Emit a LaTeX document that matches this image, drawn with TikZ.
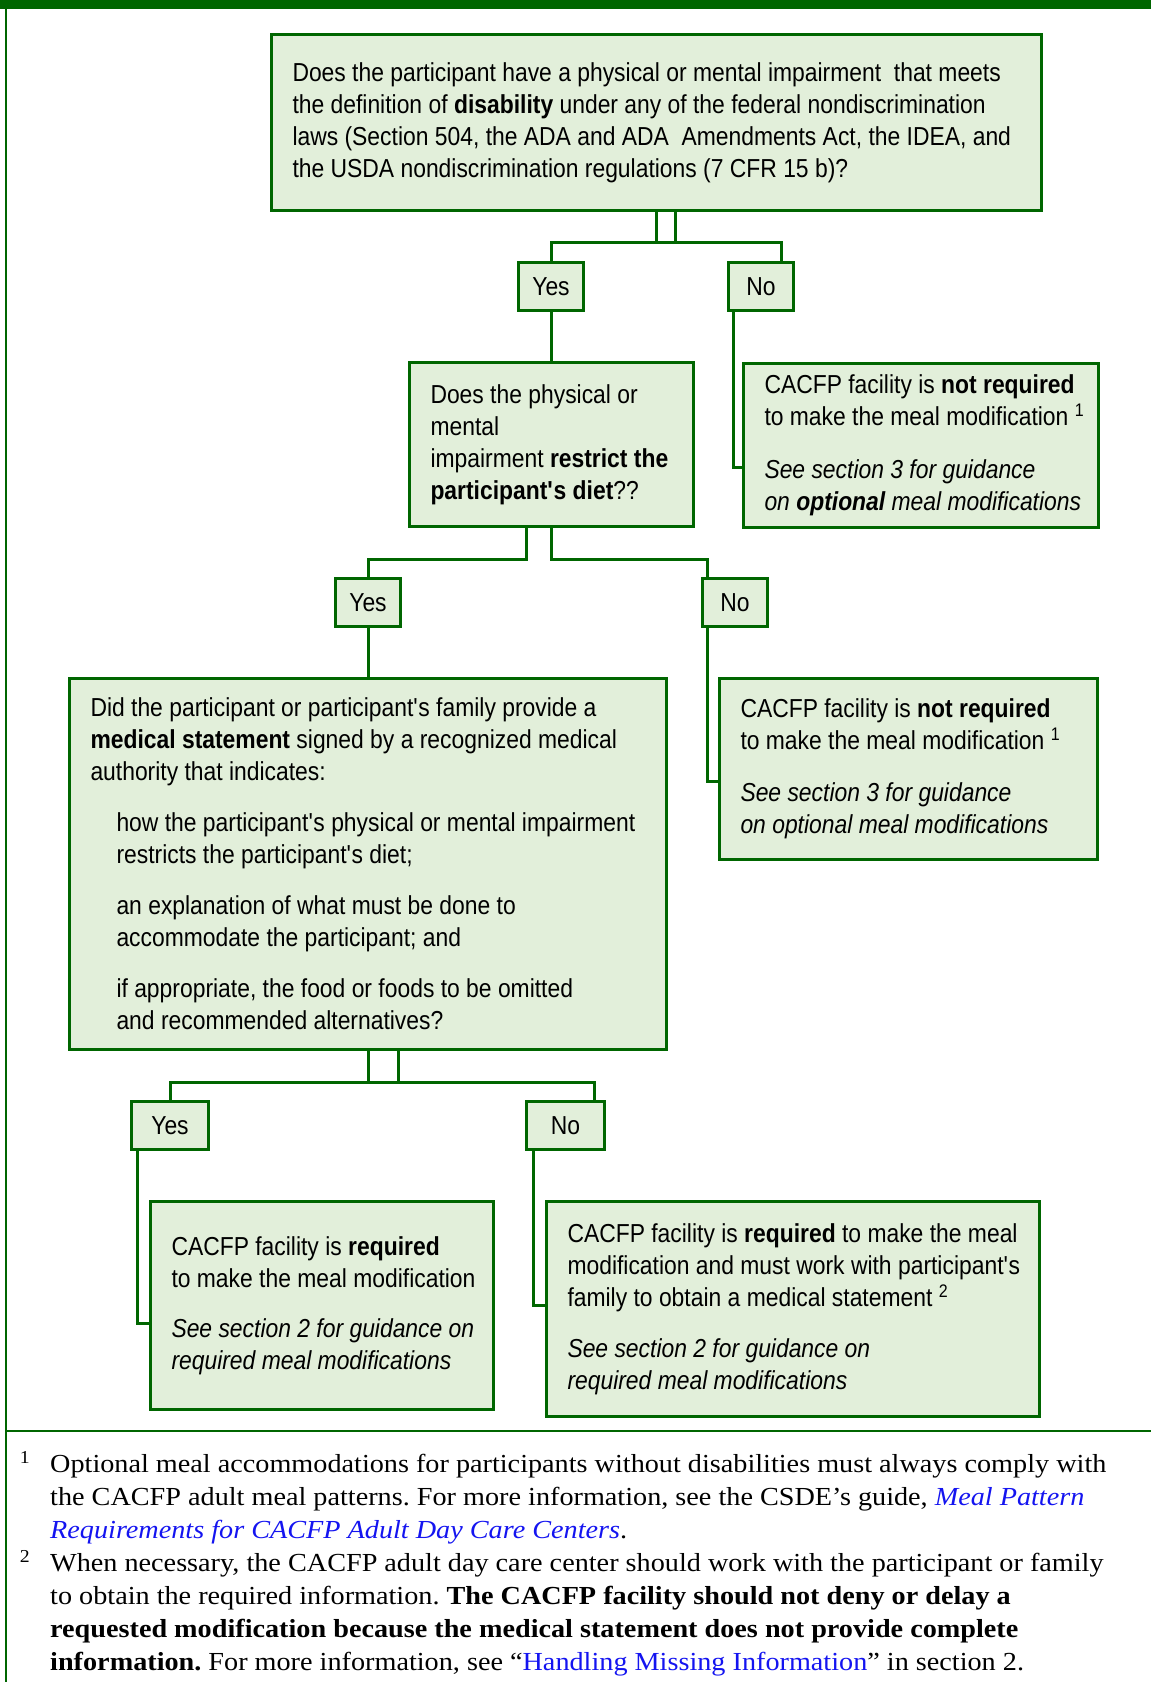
\documentclass[tikz,border=0pt]{standalone}
\usepackage{fontspec}
\setmainfont{Liberation Sans}[FakeStretch=0.88]
\newfontfamily\notefont{Liberation Serif}[FakeStretch=1.085]
\usepackage{tikz}
\definecolor{mygreen}{RGB}{0,102,0}
\definecolor{mypalegreen}{RGB}{226,239,218}
\definecolor{mylink}{RGB}{20,20,240}
\tikzstyle{answer}=[draw=mygreen,fill=mypalegreen,line width=3pt,anchor=north west,minimum width=65pt,minimum height=48pt,inner sep=0pt]
\tikzstyle{infobox}=[draw=mygreen,fill=mypalegreen,line width=3pt,anchor=north west,align=left,inner xsep=21pt,inner ysep=0pt,
  execute at begin node={\spaceskip=0pt\xspaceskip=0pt\rightskip=-40pt plus 1fil\hyphenpenalty=10000}]
\newcommand{\ind}{\hspace*{26pt}}
\newcommand{\sq}{\textquotesingle}

\begin{document}
\begin{tikzpicture}[
  x=1pt, y=-1pt,
  font=\fontsize{26}{32}\selectfont,
  link/.style={draw=mygreen,line width=3pt},
  note/.style={anchor=north west,align=left,inner sep=0pt,font=\notefont\fontsize{26}{33}\selectfont,
    execute at begin node={\frenchspacing\spaceskip=0pt\xspaceskip=0pt\rightskip=-60pt plus 1fil\hyphenpenalty=10000}}
]
\useasboundingbox (0,0) rectangle (1151,1682);
\fill[mygreen] (0,0) rectangle (1151,9);
\draw[mygreen,line width=2pt] (6,0) -- (6,1682);
\draw[mygreen,line width=2pt] (6,1431) -- (1151,1431);

% questions and answers
\node[infobox,text width=728pt,minimum height=176pt] (q1) at (270,33)
  {Does the participant have a physical or mental impairment\ \ that meets\\
   the definition of \textbf{disability} under any of the federal nondiscrimination\\
   laws (Section 504, the ADA and ADA\ \ Amendments Act, the IDEA, and\\
   the USDA nondiscrimination regulations (7 CFR 15 b)?};
\node[answer] (yes1) at (517,261) {Yes};
\node[answer] (no1) at (727,261) {No};
\node[infobox,text width=242pt,minimum height=164pt] (q2) at (408,361)
  {Does the physical or\\ mental\\ impairment \textbf{restrict the}\\ \textbf{participant\sq s diet}??};
\node[infobox,text width=313pt,minimum height=164pt] (res1) at (742,362)
  {CACFP facility is \textbf{not required}\\ to make the meal modification \textsuperscript{1}\\[21pt]
   \textit{See section 3 for guidance}\\ \textit{on \textbf{optional} meal modifications}};
\node[answer] (yes2) at (334,577) {Yes};
\node[answer] (no2) at (701,577) {No};
\node[infobox,text width=555pt,minimum height=371pt] (q3) at (68,677)
  {Did the participant or participant\sq s family provide a\\
   \textbf{medical statement} signed by a recognized medical\\
   authority that indicates:\\[19pt]
   \ind how the participant\sq s physical or mental impairment\\
   \ind restricts the participant\sq s diet;\\[19pt]
   \ind an explanation of what must be done to\\
   \ind accommodate the participant; and\\[19pt]
   \ind if appropriate, the food or foods to be omitted\\
   \ind and recommended alternatives?};
\node[infobox,text width=336pt,minimum height=181pt] (res2) at (718,677)
  {CACFP facility is \textbf{not required}\\ to make the meal modification \textsuperscript{1}\\[20pt]
   \textit{See section 3 for guidance}\\ \textit{on optional meal modifications}};
\node[answer,minimum width=77pt] (yes3) at (130,1100) {Yes};
\node[answer,minimum width=78pt] (no3) at (525,1100) {No};
\node[infobox,text width=301pt,minimum height=208pt] (res3) at (149,1200)
  {CACFP facility is \textbf{required}\\ to make the meal modification\\[18pt]
   \textit{See section 2 for guidance on}\\ \textit{required meal modifications}};
\node[infobox,text width=451pt,minimum height=215pt] (res4) at (545,1200)
  {CACFP facility is \textbf{required} to make the meal\\
   modification and must work with participant\sq s\\
   family to obtain a medical statement \textsuperscript{2}\\[19pt]
   \textit{See section 2 for guidance on}\\ \textit{required meal modifications}};

% connectors
\draw[link] (q1.south) |- ([yshift=19pt]yes1.north) -- (yes1.north);
\draw[link] ([xshift=19pt]q1.south) |- ([yshift=19pt]yes1.north);
\draw[link] ([xshift=19pt]q1.south) |- ([xshift=20pt,yshift=19pt]no1.north) -- ([xshift=20pt]no1.north);
\draw[link] (yes1.south) -- (yes1.south |- q2.north);
\draw[link] ([xshift=6pt]no1.south west) |- ([yshift=-105pt]res1.north west);
\draw[link] ([xshift=-25pt]q2.south) |- ([yshift=18pt]yes2.north) -- (yes2.north);
\draw[link] (q2.south) |- ([xshift=6pt,yshift=18pt]no2.north west) -- ([xshift=6pt]no2.north west);
\draw[link] (yes2.south) -- (yes2.south |- q3.north);
\draw[link] ([xshift=6pt]no2.south west) |- ([yshift=-104pt]res2.north west);
\draw[link] (q3.south) |- ([yshift=18pt]yes3.north) -- (yes3.north);
\draw[link] ([xshift=30pt]q3.south) |- ([yshift=18pt]yes3.north);
\draw[link] ([xshift=30pt]q3.south) |- ([xshift=29pt,yshift=18pt]no3.north) -- ([xshift=29pt]no3.north);
\draw[link] ([xshift=7pt]yes3.south west) |- ([yshift=-123pt]res3.north west);
\draw[link] ([xshift=8pt]no3.south west) |- ([yshift=-105pt]res4.north west);

% footnotes
\node[note] (fn1) at (50,1451)
  {\llap{\textsuperscript{1}\hspace{20pt}}Optional meal accommodations for participants without disabilities must always comply with\\
   the CACFP adult meal patterns. For more information, see the CSDE’s guide, \textcolor{mylink}{\textit{Meal Pattern}}\\
   \textcolor{mylink}{\textit{Requirements for CACFP Adult Day Care Centers}}.};
\node[note] (fn2) at (50,1550)
  {\llap{\textsuperscript{2}\hspace{20pt}}When necessary, the CACFP adult day care center should work with the participant or family\\
   to obtain the required information. \textbf{The CACFP facility should not deny or delay a}\\
   \textbf{requested modification because the medical statement does not provide complete}\\
   \textbf{information.} For more information, see “\textcolor{mylink}{Handling Missing Information}” in section 2.};
\end{tikzpicture}
\end{document}
